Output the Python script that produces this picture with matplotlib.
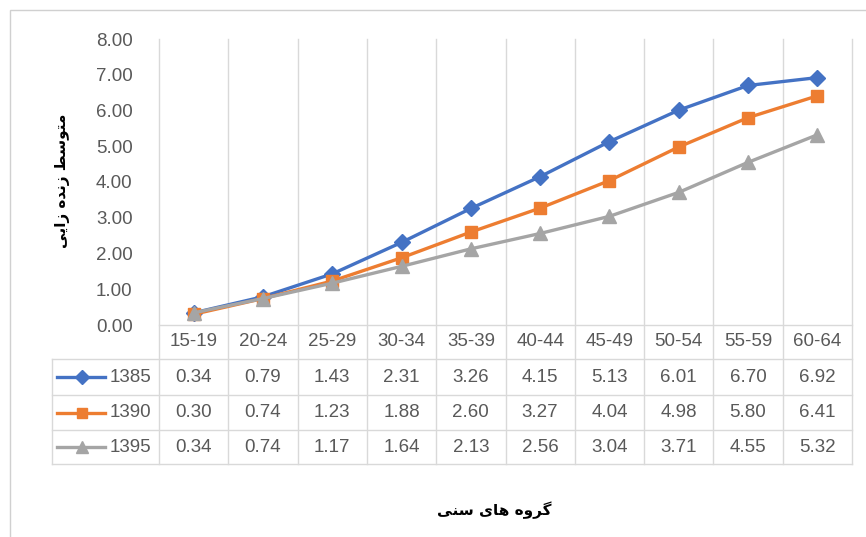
import matplotlib
matplotlib.use("Agg")
import matplotlib.pyplot as plt
from matplotlib.lines import Line2D
from matplotlib.patches import Rectangle

categories = ["15-19", "20-24", "25-29", "30-34", "35-39", "40-44", "45-49", "50-54", "55-59", "60-64"]
series_names = ["1385", "1390", "1395"]
s1385 = [0.34, 0.79, 1.43, 2.31, 3.26, 4.15, 5.13, 6.01, 6.70, 6.92]
s1390 = [0.30, 0.74, 1.23, 1.88, 2.60, 3.27, 4.04, 4.98, 5.80, 6.41]
s1395 = [0.34, 0.74, 1.17, 1.64, 2.13, 2.56, 3.04, 3.71, 4.55, 5.32]
yticks = [0, 1, 2, 3, 4, 5, 6, 7, 8]

colors = ["#4472C4", "#ED7D31", "#A5A5A5"]
markers = ["D", "s", "^"]
msizes = [8, 9, 9.5]
txt_color = "#595959"
grid_color = "#D9D9D9"
font = "Liberation Sans"

# Persian labels (presentation forms, visual order)
ylabel = "\uFEF0\uFEF3\uFE8D\uFEAF \uFEE9\uFEAA\uFEE7\uFEAF \uFEC2\uFEB3\uFEEE\uFE98\uFEE3"
xlabel = "\uFEF0\uFEE8\uFEB3 \uFEEF\uFE8E\uFEEB \uFEE9\uFEED\uFEAE\uFB94"

W, H = 866, 537
fig = plt.figure(figsize=(W / 100, H / 100), dpi=100)
fig.patch.set_facecolor("white")

# chart border (top/left visible)
fig.add_artist(Rectangle((10 / W, -0.1), 1.2, 1 - 10 / H + 0.1, transform=fig.transFigure,
                         fill=False, edgecolor="#D0D0D0", lw=1.0))

L, R, T, B = 159, 852, 39, 325
ax = fig.add_axes([L / W, 1 - B / H, (R - L) / W, (B - T) / H])
ax.set_xlim(-0.5, len(categories) - 0.5)
ax.set_ylim(0, 8)
for s in ["top", "right", "left"]:
    ax.spines[s].set_visible(False)
ax.spines["bottom"].set_color(grid_color)
ax.spines["bottom"].set_linewidth(1.0)
ax.set_xticks([])
ax.set_yticks(yticks)
ax.set_yticklabels([f"{v:.2f}" for v in yticks], fontsize=13.5, color=txt_color, family=font)
ax.tick_params(axis="y", length=0, pad=19)

def yf(py):
    return (B - py) / (B - T)

def xf(px):
    return (px - L) / (R - L)

tbl_bottom = yf(464)
# vertical gridlines through plot and table
for k in range(len(categories) + 1):
    ax.plot([k - 0.5, k - 0.5], [tbl_bottom, 1], transform=ax.get_xaxis_transform(),
            color=grid_color, lw=1.0, clip_on=False, zorder=1)
# left border of legend column
ax.plot([xf(52), xf(52)], [tbl_bottom, yf(359)], transform=ax.transAxes,
        color=grid_color, lw=1.0, clip_on=False)
# horizontal table lines
for py in [359, 395, 430, 464]:
    ax.plot([xf(52), 1], [yf(py), yf(py)], transform=ax.transAxes,
            color=grid_color, lw=1.0, clip_on=False)

xs = list(range(len(categories)))
all_series = [s1385, s1390, s1395]
for vals, c, m, ms in zip(all_series, colors, markers, msizes):
    ax.plot(xs, vals, color=c, lw=2.4, marker=m, markersize=ms, markerfacecolor=c,
            markeredgecolor=c, zorder=3, clip_on=False)

xt = ax.get_xaxis_transform()
for i, cat in enumerate(categories):
    ax.text(i, yf(342), cat, transform=xt, ha="center", va="center", fontsize=13.5,
            color=txt_color, family=font)

row_centers = [377, 412.5, 447]
for vals, name, c, m, ms, py in zip(all_series, series_names, colors, markers, msizes, row_centers):
    for i, v in enumerate(vals):
        ax.text(i, yf(py), f"{v:.2f}", transform=xt, ha="center", va="center", fontsize=13.5,
                color=txt_color, family=font)
    ax.add_line(Line2D([xf(57), xf(105)], [yf(py), yf(py)], transform=ax.transAxes, color=c,
                       lw=2.4, clip_on=False))
    ax.add_line(Line2D([xf(82)], [yf(py)], transform=ax.transAxes, color=c, marker=m,
                       markersize=ms * 0.85, lw=0, clip_on=False))
    ax.text(xf(110), yf(py), name, transform=ax.transAxes, ha="left", va="center", fontsize=13.5,
            color=txt_color, family=font)

fig.text(62 / W, 1 - 181 / H, ylabel, rotation=90, ha="center", va="center", fontsize=11,
         fontweight="bold", family="DejaVu Sans", color="black")
fig.text(494 / W, 1 - 510 / H, xlabel, ha="center", va="center", fontsize=11,
         fontweight="bold", family="DejaVu Sans", color="black")

fig.savefig("out.png", dpi=100, facecolor="white")
